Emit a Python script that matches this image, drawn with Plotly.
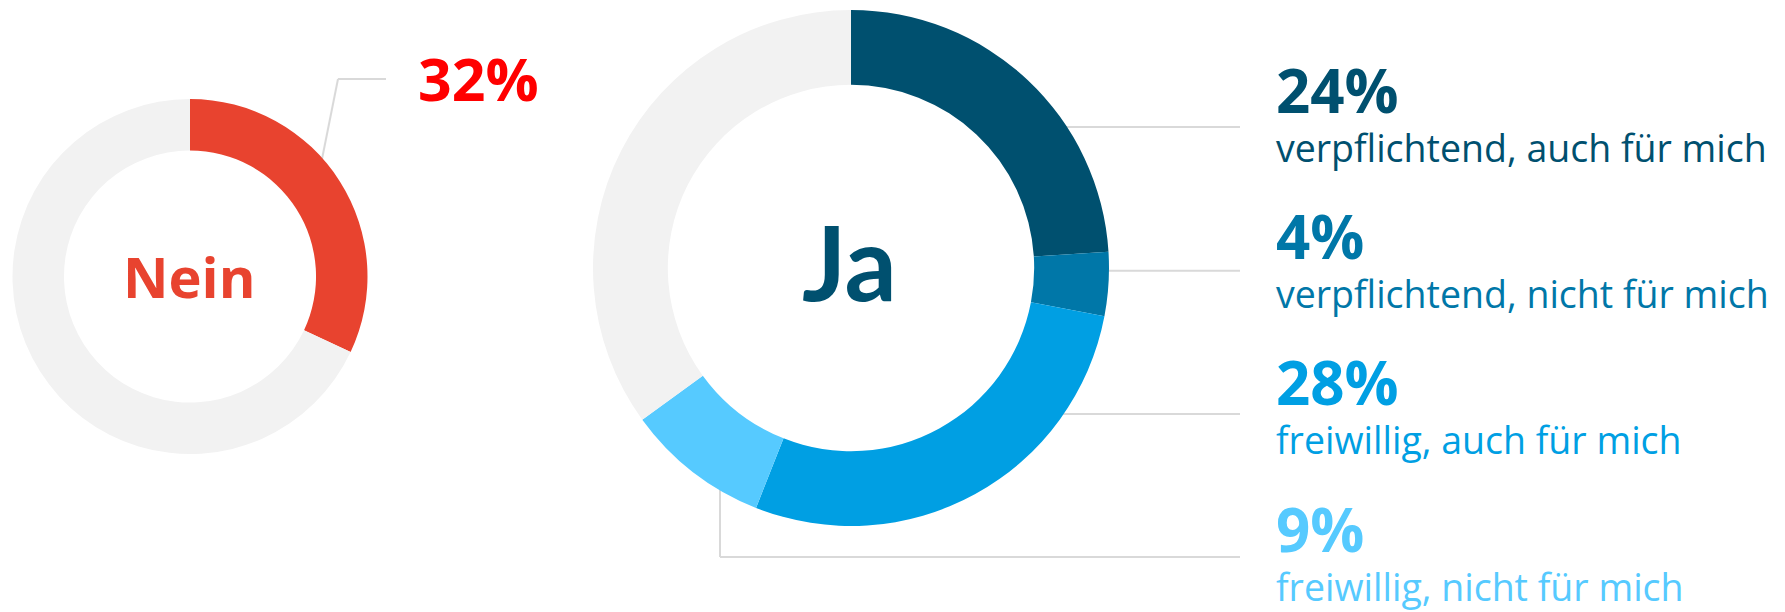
import plotly.graph_objects as go

W, H = 1785, 612

# ---- data ----
nein_labels = ["Nein", "Rest"]
nein_values = [32, 68]

ja_labels = ["verpflichtend, auch für mich", "verpflichtend, nicht für mich",
             "freiwillig, auch für mich", "freiwillig, nicht für mich", "Rest"]
ja_values = [24, 4, 28, 9, 35]

# ---- styles ----
GRAY = "#F2F2F2"
LINE = "#D9D9D9"
RED = "#E8432F"
ja_colors = ["#00506F", "#0077A8", "#009FE3", "#56CAFF", GRAY]
FONT = "Open Sans"

def px_x(x):
    return x / W

def px_y(y):
    return 1 - y / H

fig = go.Figure()

# Nein donut: centre (190, 276.5), radius 177.5
ncx, ncy, nr = 190, 276.5, 177.5
fig.add_trace(go.Pie(
    labels=nein_labels, values=nein_values, hole=0.71, sort=False,
    direction="clockwise", rotation=0,
    marker=dict(colors=[RED, GRAY], line=dict(width=0)),
    textinfo="none", hoverinfo="label+value", showlegend=False,
    domain=dict(x=[px_x(ncx - nr), px_x(ncx + nr)], y=[px_y(ncy + nr), px_y(ncy - nr)]),
))

# Ja donut: centre (851, 268), radius 258
jcx, jcy, jr = 851, 268, 258
fig.add_trace(go.Pie(
    labels=ja_labels, values=ja_values, hole=0.71, sort=False,
    direction="clockwise", rotation=0,
    marker=dict(colors=ja_colors, line=dict(width=0)),
    textinfo="none", hoverinfo="label+value", showlegend=False,
    domain=dict(x=[px_x(jcx - jr), px_x(jcx + jr)], y=[px_y(jcy + jr), px_y(jcy - jr)]),
))

shapes = []
def seg(x0, y0, x1, y1):
    shapes.append(dict(type="line", xref="paper", yref="paper",
                       x0=px_x(x0), y0=px_y(y0), x1=px_x(x1), y1=px_y(y1),
                       line=dict(color=LINE, width=2), layer="below"))

# Nein leader line
seg(319, 174, 338, 79)
seg(338, 79, 386, 79)
# Ja leader lines
seg(1040, 127, 1240, 127)
seg(1080, 270.7, 1240, 270.7)
seg(1040, 414, 1240, 414)
seg(720, 450, 720, 557)
seg(720, 557, 1240, 557)

annotations = []
def txt(x, y, s, size, color, bold=False, xanchor="left", family=FONT):
    annotations.append(dict(
        x=px_x(x), y=px_y(y), xref="paper", yref="paper", text=s,
        showarrow=False, xanchor=xanchor, yanchor="middle", borderpad=0,
        align="left",
        font=dict(family=family, size=size, color=color, weight=700 if bold else 400)))

# centre labels
txt(189.5, 275.7, nein_labels[0], 56, RED, bold=True, xanchor="center")
txt(849, 261, "Ja", 103, ja_colors[0], bold=True, xanchor="center", family="Lato")
# Nein percentage
txt(417, 78, f"{nein_values[0]}%", 59, "#FF0000", bold=True)

# Ja percentages and labels (one text block per answer)
pct_baselines = [113, 259, 405, 552]
for i in range(4):
    b = pct_baselines[i]
    block = (f"<span style='font-size:60px;font-weight:700'>{ja_values[i]}%</span>"
             f"<br>{ja_labels[i]}")
    txt(1275, b - 2.2, block, 37.5, ja_colors[i])

fig.update_layout(
    width=W, height=H, margin=dict(l=0, r=0, t=0, b=0),
    paper_bgcolor="white", plot_bgcolor="white",
    shapes=shapes, annotations=annotations, showlegend=False,
)

fig.write_html("out.html")
